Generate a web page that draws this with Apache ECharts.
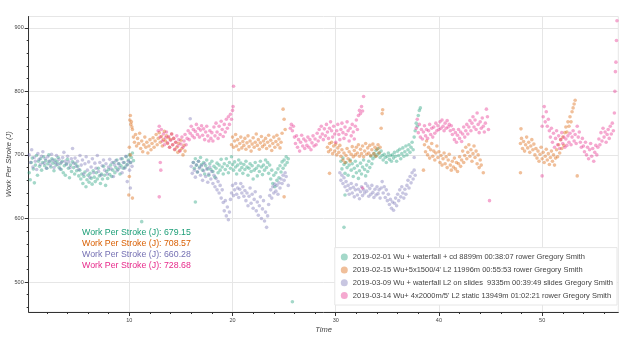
<!DOCTYPE html>
<html><head><meta charset="utf-8">
<script src="https://cdn.jsdelivr.net/npm/echarts@6/dist/echarts.min.js"></script>
<style>html,body{margin:0;padding:0;background:#fff}#c{width:620px;height:337px}</style>
</head><body><div id="c"></div>
<script>
const seriesNames = [
  "2019-02-01 Wu + waterfall + cd 8899m 00:38:07 rower Gregory Smith",
  "2019-02-15 Wu+5x1500/4' L2 11996m 00:55:53 rower Gregory Smith",
  "2019-03-09 Wu + waterfall L2 on slides  9335m 00:39:49 slides Gregory Smith",
  "2019-03-14 Wu+ 4x2000m/5' L2 static 13949m 01:02:21 rower Gregory Smith"
];
const meanValues = [679.15, 708.57, 660.28, 728.68];
const xTicks = [10, 20, 30, 40, 50];
const xMinorTicks = [2,4,6,8,12,14,16,18,22,24,26,28,32,34,36,38,42,44,46,48,52,54,56];
const yTicks = [500, 600, 700, 800, 900];
const yMinorTicks = [460,480,520,540,560,580,620,640,660,680,720,740,760,780,820,840,860,880];

const green = [
[0.3,672],[0.4,661],[0.5,688],[0.6,695],[0.7,678],[0.8,656],[0.9,684],[1.0,699],[1.1,668],[1.2,690],[1.3,682],[1.4,694],[1.5,676],[1.6,688],[1.7,697],[1.8,683],[1.9,691],[2.0,679],[2.1,686],[2.2,700],[2.3,690],[2.4,681],[2.5,694],[2.6,687],[2.7,675],[2.8,692],[2.9,684],[3.0,689],[3.1,696],[3.2,680],[3.3,686],[3.4,677],[3.5,690],[3.6,672],[3.7,683],[3.8,668],[3.9,686],[4.0,693],[4.1,679],[4.2,664],[4.3,684],[4.4,674],[4.5,689],[4.6,680],[4.7,670],[4.8,686],[4.9,675],[5.0,682],[5.1,667],[5.2,676],[5.3,662],[5.4,670],[5.5,655],[5.6,666],[5.7,673],[5.8,650],[5.9,661],[6.0,668],[6.1,657],[6.2,671],[6.3,663],[6.4,654],[6.5,675],[6.6,665],[6.7,658],[6.8,672],[6.9,662],[7.0,679],[7.1,667],[7.2,655],[7.3,670],[7.4,662],[7.5,682],[7.6,668],[7.7,652],[7.8,674],[7.9,663],[8.0,677],[8.1,669],[8.2,684],[8.3,666],[8.4,676],[8.5,688],[8.6,672],[8.7,680],[8.8,692],[8.9,677],[9.0,686],[9.1,670],[9.2,683],[9.3,694],[9.4,679],[9.5,688],[9.6,681],[9.7,697],[9.8,685],[9.9,692],[10.0,700],[10.1,688],[10.2,696],[10.3,703],[10.4,691],[11.2,595],
[16.2,688],[16.3,679],[16.4,694],[16.5,684],[16.6,673],[16.7,690],[16.8,681],[16.9,696],[17.0,685],[17.1,676],[17.2,688],[17.3,670],[17.4,683],[17.5,692],[17.6,678],[17.7,668],[17.8,686],[17.9,677],[18.0,690],[18.1,674],[18.2,682],[18.3,665],[18.4,679],[18.5,687],[18.6,672],[18.7,684],[18.8,676],[18.9,693],[19.0,681],[19.1,670],[19.2,686],[19.3,677],[19.4,694],[19.5,683],[19.6,672],[19.7,688],[19.8,679],[19.9,697],[20.0,685],[20.1,676],[20.2,689],[20.3,681],[20.4,670],[20.5,684],[20.6,692],[20.7,676],[20.8,687],[20.9,680],[21.0,671],[21.1,685],[21.2,677],[21.3,690],[21.4,681],[21.5,668],[21.6,679],[21.7,686],[21.8,674],[21.9,683],[22.0,662],[22.1,676],[22.2,688],[22.3,679],[22.4,667],[22.5,683],[22.6,674],[22.7,690],[22.8,681],[22.9,669],[23.0,684],[23.1,676],[23.2,692],[23.3,680],[23.4,688],[23.5,671],[23.6,684],[23.7,662],[23.8,676],[23.9,655],[24.0,668],[24.1,650],[24.2,672],[24.3,660],[24.4,678],[24.5,664],[24.6,683],[24.7,673],[24.8,689],[24.9,679],[25.0,692],[25.1,684],[25.2,697],[25.3,688],[25.4,694],[16.4,626],[25.8,469],
[30.5,690],[30.6,678],[30.7,695],[30.8,685],[30.9,671],[31.0,688],[31.1,680],[31.2,668],[31.3,684],[31.4,692],[31.5,676],[31.6,686],[31.7,666],[31.8,679],[31.9,690],[32.0,672],[32.1,683],[32.2,663],[32.3,675],[32.4,687],[32.5,670],[32.6,681],[32.7,692],[32.8,677],[32.9,667],[33.0,684],[33.1,674],[33.2,690],[33.3,680],[33.4,698],[33.5,686],[33.6,694],[33.7,702],[33.8,697],[33.9,707],[34.0,700],[34.1,710],[34.2,703],[34.3,696],[34.4,706],[34.5,699],[34.6,692],[34.7,701],[34.8,696],[34.9,688],[35.0,698],[35.1,703],[35.2,693],[35.3,699],[35.4,690],[35.5,700],[35.6,695],[35.7,704],[35.8,698],[35.9,690],[36.0,706],[36.1,699],[36.2,709],[36.3,694],[36.4,702],[36.5,711],[36.6,698],[36.7,705],[36.8,714],[36.9,700],[37.0,708],[37.1,716],[37.2,704],[37.3,712],[37.4,720],[37.5,708],[37.6,728],[37.7,738],[37.8,750],[37.9,745],[38.0,762],[38.1,770],[38.2,774],[30.8,586],[30.9,637]
];

const orange = [
[10.0,712],[10.05,755],[10.1,762],[10.15,748],[10.2,752],[10.25,744],[10.3,740],[10.4,728],[10.5,720],[10.6,732],[10.7,714],[10.8,726],[10.9,718],[11.0,734],[11.1,710],[11.2,722],[11.3,705],[11.4,716],[11.5,728],[11.6,712],[11.7,720],[11.8,703],[11.9,714],[12.0,724],[12.1,708],[12.2,718],[12.3,727],[12.4,712],[12.5,722],[12.6,732],[12.7,716],[12.8,726],[12.9,735],[13.0,720],[13.1,729],[13.2,714],[13.3,724],[13.4,737],[13.5,722],[13.6,730],[13.7,718],[13.8,727],[13.9,712],[14.0,724],[14.1,733],[14.2,716],[14.3,726],[14.4,708],[14.5,720],[14.6,712],[14.7,704],[14.8,718],[14.9,707],[15.0,723],[15.1,710],[15.2,700],[15.3,715],[15.4,706],[10.0,666],[9.95,637],[10.3,632],[10.1,700],
[19.9,716],[20.0,728],[20.1,712],[20.2,722],[20.3,732],[20.4,714],[20.5,724],[20.6,708],[20.7,718],[20.8,728],[20.9,711],[21.0,721],[21.1,715],[21.2,726],[21.3,709],[21.4,719],[21.5,730],[21.6,713],[21.7,722],[21.8,706],[21.9,717],[22.0,727],[22.1,712],[22.2,720],[22.3,733],[22.4,715],[22.5,724],[22.6,709],[22.7,719],[22.8,729],[22.9,713],[23.0,722],[23.1,716],[23.2,726],[23.3,710],[23.4,720],[23.5,731],[23.6,714],[23.7,723],[23.8,707],[23.9,718],[24.0,728],[24.1,712],[24.2,721],[24.3,731],[24.4,716],[24.5,725],[24.6,711],[24.7,720],[24.8,734],[24.9,772],[25.0,756],[25.1,740],[25.0,634],
[29.2,712],[29.3,705],[29.4,718],[29.5,708],[29.6,720],[29.7,702],[29.8,714],[29.9,706],[30.0,717],[30.1,700],[30.2,711],[30.3,704],[30.4,715],[30.5,698],[30.6,708],[30.7,692],[30.8,703],[30.9,688],[31.0,699],[31.1,710],[31.2,694],[31.3,705],[31.4,690],[31.5,701],[31.6,713],[31.7,697],[31.8,707],[31.9,700],[32.0,712],[32.1,703],[32.2,716],[32.3,698],[32.4,709],[32.5,702],[32.6,714],[32.7,697],[32.8,706],[32.9,718],[33.0,701],[33.1,711],[33.2,703],[33.3,715],[33.4,699],[33.5,708],[33.6,717],[33.7,702],[33.8,712],[33.9,698],[34.0,709],[34.1,716],[34.2,703],[34.3,712],[34.4,742],[34.5,765],[34.55,771],[29.4,671],
[38.6,716],[38.7,705],[38.8,722],[38.9,700],[39.0,712],[39.1,695],[39.2,708],[39.3,718],[39.4,698],[39.5,706],[39.6,692],[39.7,703],[39.8,714],[39.9,696],[40.0,705],[40.1,688],[40.2,699],[40.3,684],[40.4,694],[40.5,703],[40.6,686],[40.7,697],[40.8,680],[40.9,692],[41.0,701],[41.1,684],[41.2,676],[41.3,690],[41.4,681],[41.5,695],[41.6,678],[41.7,688],[41.8,674],[41.9,686],[42.0,697],[42.1,682],[42.2,692],[42.3,706],[42.4,688],[42.5,699],[42.6,712],[42.7,694],[42.8,704],[42.9,716],[43.0,698],[43.1,708],[43.2,690],[43.3,702],[43.4,714],[43.5,696],[43.6,706],[43.7,686],[43.8,700],[43.9,680],[44.0,692],[44.1,684],[38.5,676],[44.3,672],
[47.9,718],[48.0,726],[48.1,710],[48.2,721],[48.3,706],[48.4,716],[48.5,728],[48.6,711],[48.7,720],[48.8,704],[48.9,714],[49.0,724],[49.1,708],[49.2,717],[49.3,700],[49.4,710],[49.5,695],[49.6,706],[49.7,690],[49.8,701],[49.9,712],[50.0,694],[50.1,704],[50.2,688],[50.3,698],[50.4,709],[50.5,692],[50.6,702],[50.7,685],[50.8,696],[50.9,706],[51.0,690],[51.1,700],[51.2,684],[51.3,695],[51.4,708],[51.5,697],[51.6,716],[51.7,703],[51.8,724],[51.9,710],[52.0,728],[52.1,715],[52.2,735],[52.3,744],[52.4,736],[52.5,752],[52.6,745],[52.7,760],[52.8,752],[52.9,768],[53.0,774],[53.1,780],[53.2,786],[47.9,672],[47.95,741],[53.4,667]
];

const purple = [
[0.30,700],[0.42,688],[0.54,708],[0.66,681],[0.78,696],[0.90,690],[1.02,677],[1.14,702],[1.26,693],[1.38,685],[1.50,698],[1.62,705],[1.74,687],[1.86,694],[1.98,679],[2.10,697],[2.22,690],[2.34,684],[2.46,701],[2.58,692],[2.70,680],[2.82,688],[2.94,699],[3.06,685],[3.18,693],[3.30,678],[3.42,688],[3.54,696],[3.66,704],[3.78,690],[3.90,685],[4.02,698],[4.14,689],[4.26,680],[4.38,694],[4.50,710],[4.62,687],[4.74,695],[4.86,682],[4.98,690],[5.10,677],[5.22,699],[5.34,684],[5.46,692],[5.58,670],[5.70,686],[5.82,697],[5.94,676],[6.06,689],[6.18,665],[6.30,681],[6.42,694],[6.54,672],[6.66,687],[6.78,679],[6.90,699],[7.02,674],[7.14,688],[7.26,668],[7.38,683],[7.50,692],[7.62,676],[7.74,686],[7.86,670],[7.98,681],[8.10,693],[8.22,678],[8.34,688],[8.46,666],[8.58,684],[8.70,691],[8.82,675],[8.94,686],[9.06,680],[9.18,694],[9.30,672],[9.42,688],[9.54,679],[9.66,698],[9.78,684],[9.90,690],[10.02,676],[10.14,688],[10.26,682],[9.8,658],[10.1,648],
[16.0,682],[16.1,671],[16.2,688],[16.3,676],[16.4,665],[16.5,684],[16.6,673],[16.7,690],[16.8,679],[16.9,668],[17.0,683],[17.1,660],[17.2,675],[17.3,686],[17.4,666],[17.5,678],[17.6,657],[17.7,670],[17.8,681],[17.9,662],[18.0,674],[18.1,655],[18.2,668],[18.3,650],[18.4,663],[18.5,645],[18.6,658],[18.7,640],[18.8,652],[18.9,632],[19.0,645],[19.1,625],[19.2,612],[19.3,628],[19.4,604],[19.5,618],[19.6,598],[19.7,610],[19.8,630],[19.9,640],[20.0,652],[20.1,636],[20.2,645],[20.3,655],[20.4,638],[20.5,648],[20.6,633],[20.7,646],[20.8,655],[20.9,640],[21.0,650],[21.1,635],[21.2,644],[21.3,628],[21.4,640],[21.5,620],[21.6,635],[21.7,648],[21.8,624],[21.9,638],[22.0,616],[22.1,630],[22.2,642],[22.3,612],[22.4,626],[22.5,605],[22.6,620],[22.7,634],[22.8,600],[22.9,615],[23.0,628],[23.1,596],[23.2,610],[23.3,586],[23.4,604],[23.5,622],[23.6,636],[23.7,645],[23.8,632],[23.9,650],[24.0,640],[24.1,654],[24.2,643],[24.3,652],[24.4,638],[24.5,656],[24.6,648],[24.7,662],[24.8,655],[24.9,668],[25.0,660],[25.1,672],[25.2,666],[15.9,757],[25.4,652],
[30.4,672],[30.5,660],[30.6,668],[30.7,655],[30.8,664],[30.9,650],[31.0,658],[31.1,644],[31.2,652],[31.3,638],[31.4,647],[31.5,655],[31.6,640],[31.7,649],[31.8,634],[31.9,645],[32.0,653],[32.1,637],[32.2,646],[32.3,631],[32.4,642],[32.5,650],[32.6,636],[32.7,645],[32.8,640],[32.9,655],[33.0,643],[33.1,651],[33.2,635],[33.3,647],[33.4,638],[33.5,652],[33.6,641],[33.7,633],[33.8,646],[33.9,637],[34.0,650],[34.1,639],[34.2,645],[34.3,632],[34.4,648],[34.5,658],[34.6,640],[34.7,650],[34.8,633],[34.9,645],[35.0,628],[35.1,638],[35.2,622],[35.3,630],[35.4,616],[35.5,626],[35.6,613],[35.7,624],[35.8,632],[35.9,620],[36.0,638],[36.1,628],[36.2,645],[36.3,634],[36.4,650],[36.5,640],[36.6,632],[36.7,646],[36.8,638],[36.9,652],[37.0,660],[37.1,648],[37.2,666],[37.3,656],[37.4,672],[37.5,662],[37.6,676],[37.7,668],[37.6,696]
];

const pink = [
[12.8,738],[12.9,745],[13.0,728],[13.1,740],[13.2,722],[13.3,733],[13.4,716],[13.5,727],[13.6,736],[13.7,719],[13.8,729],[13.9,712],[14.0,723],[14.1,733],[14.2,716],[14.3,726],[14.4,709],[14.5,720],[14.6,730],[14.7,714],[14.8,724],[14.9,706],[15.0,717],[15.1,728],[15.2,712],[15.3,722],[15.4,732],[15.5,716],[15.6,726],[15.7,738],[15.8,724],[15.9,734],[16.0,745],[16.1,730],[16.2,740],[16.3,727],[16.4,737],[16.5,748],[16.6,732],[16.7,742],[16.8,728],[16.9,739],[17.0,746],[17.1,731],[17.2,741],[17.3,724],[17.4,736],[17.5,745],[17.6,730],[17.7,722],[17.8,738],[17.9,726],[18.0,735],[18.1,722],[18.2,744],[18.3,730],[18.4,750],[18.5,736],[18.6,726],[18.7,745],[18.8,732],[18.9,753],[19.0,740],[19.1,729],[19.2,748],[19.3,736],[19.4,756],[19.5,742],[19.6,760],[19.7,748],[19.8,764],[19.9,756],[20.0,770],[20.05,776],[20.1,808],[13.0,688],[13.05,676],[12.9,634],
[25.6,742],[25.7,748],[25.8,738],[25.9,745],[26.0,728],[26.1,718],[26.2,730],[26.3,712],[26.4,724],[26.5,706],[26.6,720],[26.7,731],[26.8,714],[26.9,725],[27.0,710],[27.1,722],[27.2,715],[27.3,728],[27.4,712],[27.5,724],[27.6,708],[27.7,719],[27.8,730],[27.9,714],[28.0,725],[28.1,716],[28.2,734],[28.3,722],[28.4,740],[28.5,728],[28.6,745],[28.7,733],[28.8,724],[28.9,741],[29.0,730],[29.1,748],[29.2,736],[29.3,726],[29.4,742],[29.5,752],[29.6,738],[29.7,728],[29.8,745],[29.9,733],[30.0,720],[30.1,738],[30.2,748],[30.3,732],[30.4,724],[30.5,740],[30.6,750],[30.7,735],[30.8,726],[30.9,744],[31.0,732],[31.1,752],[31.2,738],[31.3,722],[31.4,742],[31.5,730],[31.6,748],[31.7,736],[31.8,725],[31.9,745],[32.0,755],[32.1,740],[32.2,762],[32.3,770],[32.4,765],[32.5,776],[32.6,769],[32.7,792],[32.6,648],
[37.8,742],[37.9,756],[38.0,735],[38.1,748],[38.2,728],[38.3,740],[38.4,725],[38.5,736],[38.6,746],[38.7,730],[38.8,740],[38.9,726],[39.0,738],[39.1,748],[39.2,732],[39.3,742],[39.4,728],[39.5,744],[39.6,734],[39.7,750],[39.8,738],[39.9,746],[40.0,740],[40.1,752],[40.2,742],[40.3,755],[40.4,745],[40.5,738],[40.6,750],[40.7,742],[40.8,754],[40.9,744],[41.0,748],[41.1,738],[41.2,746],[41.3,732],[41.4,740],[41.5,724],[41.6,735],[41.7,720],[41.8,731],[41.9,740],[42.0,726],[42.1,736],[42.2,721],[42.3,733],[42.4,744],[42.5,728],[42.6,738],[42.7,748],[42.8,733],[42.9,744],[43.0,754],[43.1,738],[43.2,750],[43.3,760],[43.4,744],[43.5,755],[43.6,740],[43.7,766],[43.8,748],[43.9,735],[44.0,752],[44.1,742],[44.2,758],[44.3,745],[44.4,736],[44.5,750],[44.6,772],[44.7,760],[44.8,740],[44.9,628],
[50.0,745],[50.1,760],[50.2,776],[50.3,752],[50.4,768],[50.5,745],[50.6,756],[50.7,738],[50.8,728],[50.9,742],[51.0,720],[51.1,734],[51.2,712],[51.3,726],[51.4,738],[51.5,716],[51.6,730],[51.7,710],[51.8,724],[51.9,735],[52.0,718],[52.1,728],[52.2,712],[52.3,725],[52.4,715],[52.5,730],[52.6,720],[52.7,734],[52.8,716],[52.9,728],[53.0,738],[53.1,722],[53.2,732],[53.3,718],[53.4,745],[53.5,728],[53.6,736],[53.7,720],[53.8,712],[53.9,726],[54.0,714],[54.1,705],[54.2,720],[54.3,700],[54.4,712],[54.5,694],[54.6,708],[54.7,718],[54.8,698],[54.9,710],[55.0,690],[55.1,704],[55.2,715],[55.3,700],[55.4,712],[55.5,725],[55.6,716],[55.7,735],[55.8,722],[55.9,742],[56.0,728],[56.1,736],[56.2,720],[56.3,732],[56.4,740],[56.5,726],[56.6,745],[56.7,733],[56.8,750],[56.9,738],[57.0,766],[57.05,800],[57.1,831],[57.15,846],[57.2,880],[57.25,911],[50.0,667]
];

const seriesData = [green, orange, purple, pink];
const baseColors = [[27,158,119],[217,95,2],[117,112,179],[231,41,138]];
const rgba = (c, a) => `rgba(${c[0]},${c[1]},${c[2]},${a})`;
const FONT = '"Liberation Sans", Arial, Helvetica, sans-serif';

const chart = echarts.init(document.getElementById('c'), null, {renderer: 'canvas'});
const gridBox = {left: 28.7, right: 1.7, top: 16.5, bottom: 25};

chart.setOption({
  animation: false,
  backgroundColor: '#fff',
  grid: Object.assign({show: true, borderColor: '#e6e6e6', borderWidth: 1, backgroundColor: 'transparent',
    containLabel: false, outerBoundsMode: 'none'}, gridBox),
  xAxis: [{
    type: 'value', min: 0.25, max: 57.38, position: 'bottom',
    name: 'Time', nameLocation: 'middle', nameGap: 13.5, nameMoveOverlap: false,
    nameTextStyle: {fontFamily: FONT, fontSize: 7.5, fontStyle: 'italic', color: '#444'},
    axisLine: {show: true, lineStyle: {color: '#333', width: 1}},
    axisTick: {show: true, customValues: xTicks, length: 4, lineStyle: {color: '#333'}},
    axisLabel: {customValues: xTicks, fontFamily: FONT, fontSize: 5.5, color: '#444', margin: 5},
    splitLine: {show: true, lineStyle: {color: '#e6e6e6', width: 1}}
  }, {
    type: 'value', min: 0.25, max: 57.38, position: 'bottom',
    axisLine: {show: false},
    axisTick: {show: true, customValues: xMinorTicks, length: 2, lineStyle: {color: '#333'}},
    axisLabel: {show: false},
    splitLine: {show: false}
  }],
  yAxis: [{
    type: 'value', min: 452.8, max: 917.8, position: 'left',
    name: 'Work Per Stroke (J)', nameLocation: 'middle', nameGap: 16, nameMoveOverlap: false,
    nameTextStyle: {fontFamily: FONT, fontSize: 7.5, fontStyle: 'italic', color: '#444'},
    axisLine: {show: true, lineStyle: {color: '#333', width: 1}},
    axisTick: {show: true, customValues: yTicks, length: 4, lineStyle: {color: '#333'}},
    axisLabel: {customValues: yTicks, fontFamily: FONT, fontSize: 5.5, color: '#444', margin: 5},
    splitLine: {show: true, lineStyle: {color: '#e6e6e6', width: 1}}
  }, {
    type: 'value', min: 452.8, max: 917.8, position: 'left',
    axisLine: {show: false},
    axisTick: {show: true, customValues: yMinorTicks, length: 2, lineStyle: {color: '#333'}},
    axisLabel: {show: false},
    splitLine: {show: false}
  }],
  legend: {
    orient: 'vertical', right: 3, bottom: 32,
    data: seriesNames,
    icon: 'circle', itemWidth: 7, itemHeight: 7, itemGap: 4.8,
    padding: [5.5, 4, 5.5, 6],
    backgroundColor: '#fff', borderColor: '#e6e6e6', borderWidth: 1,
    textStyle: {fontFamily: FONT, fontSize: 7.5, lineHeight: 7, color: '#444'}
  },
  series: seriesData.map((d, i) => ({
    name: seriesNames[i], type: 'scatter', data: d,
    xAxisIndex: 0, yAxisIndex: 0,
    symbol: 'circle', symbolSize: 3.6,
    itemStyle: {color: rgba(baseColors[i], 0.5)},
    emphasis: {disabled: true}
  })),
  graphic: meanValues.map((m, i) => ({
    type: 'text', x: 82, y: 232.3 + i * 11, z: 100,
    style: {text: 'Work Per Stroke (J): ' + m.toFixed(2), fill: rgba(baseColors[i], 1),
      font: '8.8px ' + FONT, verticalAlign: 'middle', align: 'left'}
  }))
});
</script></body></html>
